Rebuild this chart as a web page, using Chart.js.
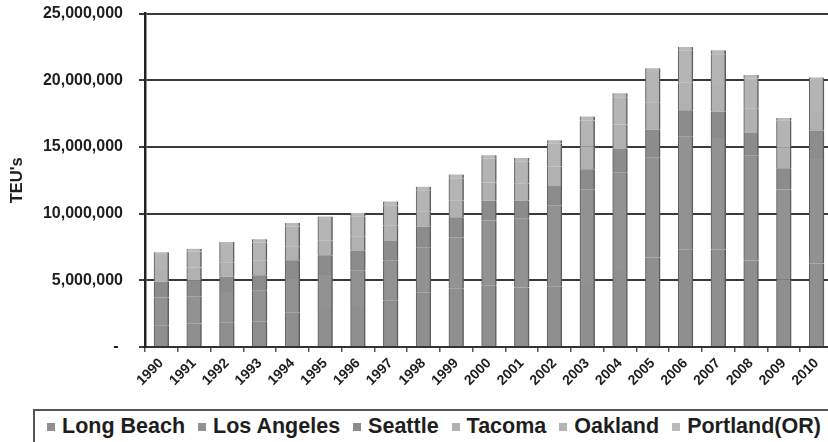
<!DOCTYPE html>
<html>
<head>
<meta charset="utf-8">
<script src="https://cdn.jsdelivr.net/npm/chart.js@4.4.1/dist/chart.umd.min.js"></script>
<style>
  html, body { margin: 0; padding: 0; background: #fff; overflow: hidden; width: 828px; height: 442px; }
  #wrap { position: relative; width: 828px; height: 442px; overflow: hidden; }
  #c { position: absolute; left: 0; top: -12px; }
  #legend {
    position: absolute; left: 33px; top: 409px; width: 820px; height: 35px;
    border: 2px solid #555; box-sizing: border-box;
    display: flex; align-items: center; padding-left: 12px;
    font-family: "Liberation Sans", Arial, sans-serif; font-weight: bold; font-size: 21.5px; color: #1e1e1e;
    white-space: nowrap;
  }
  .item { display: flex; align-items: center; margin-right: 13px; }
  .sw { width: 8px; height: 8px; margin-right: 7px; }
</style>
</head>
<body>
<div id="wrap">
  <canvas id="c" width="840" height="412"></canvas>
  <div id="legend"></div>
</div>
<script>
const years = ['1990','1991','1992','1993','1994','1995','1996','1997','1998','1999','2000',
               '2001','2002','2003','2004','2005','2006','2007','2008','2009','2010'];
const seriesNames = ['Long Beach', 'Los Angeles', 'Seattle', 'Tacoma', 'Oakland', 'Portland(OR)'];
const longBeach  = [1598000,1768000,1827000,1900000,2574000,2844000,3067000,3505000,4098000,4408000,4601000,4463000,4526000,4658000,5780000,6710000,7290000,7312000,6488000,5068000,6263000];
const losAngeles = [2117000,2038000,2289000,2320000,2519000,2555000,2683000,2960000,3378000,3829000,4879000,5184000,6106000,7179000,7321000,7485000,8470000,8355000,7850000,6749000,7831000];
const seattle    = [1171000,1184000,1151000,1151000,1415000,1479000,1474000,1476000,1544000,1491000,1488000,1316000,1439000,1486000,1776000,2088000,1987000,1974000,1704000,1584000,2140000];
const tacoma     = [880000,970000,1090000,1100000,1040000,1092000,1074000,1157000,1156000,1272000,1376000,1320000,1471000,1738000,1798000,2066000,2067000,1925000,1861000,1545000,1455000];
const oakland    = [1124000,1194000,1288000,1360000,1491000,1549000,1498000,1531000,1575000,1663000,1777000,1644000,1708000,1923000,2047000,2273000,2392000,2388000,2236000,2051000,2330000];
const portland   = [209000,215000,226000,250000,250000,260000,250000,280000,260000,270000,260000,240000,260000,300000,300000,280000,290000,300000,250000,180000,190000];
const yTicks = [0, 5000000, 10000000, 15000000, 20000000, 25000000];

const seriesValues = [longBeach, losAngeles, seattle, tacoma, oakland, portland];
const fills = ['#8f8f8f', '#929292', '#8c8c8c', '#b1b1b1', '#b4b4b4', '#b9b9b9'];

const FONT = '"Liberation Sans", Arial, sans-serif';

const datasets = seriesNames.map((name, i) => ({
  label: name,
  data: seriesValues[i],
  backgroundColor: fills[i],
  borderColor: '#5e5e5e',
  borderWidth: {left: 1, right: 1.5, top: 0, bottom: 0},
  borderSkipped: false,
  inflateAmount: 0.6,
  barPercentage: 0.48,
  categoryPercentage: 0.9
}));

const chart = new Chart(document.getElementById('c'), {
  type: 'bar',
  data: { labels: years, datasets },
  options: {
    responsive: false,
    animation: false,
    devicePixelRatio: 1,
    layout: { padding: { left: 0, right: 7, top: 1, bottom: 0 } },
    plugins: { legend: { display: false }, tooltip: { enabled: false } },
    scales: {
      x: {
        stacked: true,
        grid: { display: true, drawOnChartArea: false, drawTicks: true, tickLength: 5, color: '#555', lineWidth: 1.5, offset: true },
        border: { display: true, color: '#333', width: 2 },
        ticks: {
          color: '#1e1e1e', font: { family: FONT, weight: 'bold', size: 14 },
          minRotation: 45, maxRotation: 45, autoSkip: false, padding: 3
        },
        afterFit: s => { s.height = 53; }
      },
      y: {
        stacked: true,
        min: 0, max: 25000000,
        afterBuildTicks: s => { s.ticks = yTicks.map(v => ({ value: v })); },
        grid: { color: '#3a3a3a', lineWidth: 2, drawTicks: true, tickLength: 6 },
        border: { display: true, color: '#222', width: 2.5 },
        ticks: {
          color: '#1e1e1e', font: { family: FONT, weight: 'bold', size: 16 }, padding: 16,
          callback: v => v === 0 ? '- ' : v.toLocaleString('en-US')
        },
        title: {
          display: true, text: "TEU's", color: '#1e1e1e',
          font: { family: FONT, weight: 'bold', size: 16.5 }, padding: { top: 8, bottom: 0 }
        },
        afterFit: s => { s.width = 145; }
      }
    }
  }
});

const legend = document.getElementById('legend');
chart.data.datasets.forEach(ds => {
  const item = document.createElement('span');
  item.className = 'item';
  const sw = document.createElement('span');
  sw.className = 'sw';
  sw.style.background = ds.backgroundColor;
  const tx = document.createElement('span');
  tx.textContent = ds.label;
  item.appendChild(sw); item.appendChild(tx);
  legend.appendChild(item);
});
</script>
</body>
</html>
